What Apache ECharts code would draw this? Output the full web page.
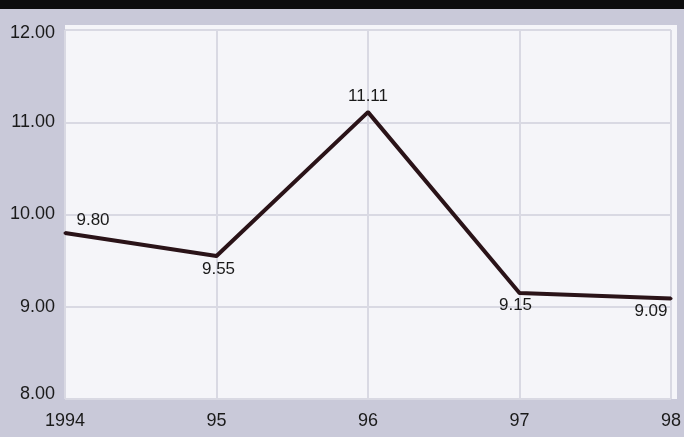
<!DOCTYPE html>
<html>
<head>
<meta charset="utf-8">
<script src="https://cdn.jsdelivr.net/npm/echarts@6/dist/echarts.min.js"></script>
<style>
html, body { margin: 0; padding: 0; background: #c9c9d9; }
#main { width: 684px; height: 437px; }
</style>
</head>
<body>
<div id="main"></div>
<script>
var years = ['1994', '95', '96', '97', '98'];
var values = [9.80, 9.55, 11.11, 9.15, 9.09];
var yTicks = ['8.00', '9.00', '10.00', '11.00', '12.00'];

// where each value label sits relative to its point
var labelPos = [
    { show: true, position: 'top', offset: [28, 2] },
    { show: true, position: 'bottom', offset: [2, -2] },
    { show: true, position: 'top', offset: [0, -1] },
    { show: true, position: 'bottom', offset: [-4, -3] },
    { show: true, position: 'bottom', offset: [-20, -2] }
];

var myChart = echarts.init(document.getElementById('main'));

var seriesData = values.map(function (v, i) {
    return {
        value: v,
        label: labelPos[i]
    };
});

myChart.setOption({
    backgroundColor: '#c9c9d9',
    animation: false,
    textStyle: { fontFamily: 'Liberation Sans' },
    graphic: [{
        type: 'rect',
        shape: { x: 0, y: 0, width: 684, height: 9 },
        style: { fill: '#0c0c0e' },
        z: 100
    }, {
        type: 'rect',
        shape: { x: 65, y: 25, width: 612, height: 374 },
        style: { fill: '#f5f5f9' },
        z: -10
    }],
    grid: {
        left: 65,
        right: 7,
        top: 30,
        bottom: 38
    },
    xAxis: {
        type: 'category',
        data: years,
        boundaryGap: false,
        axisLine: { show: false },
        axisTick: { show: false },
        axisLabel: {
            color: '#1a1a1a',
            fontSize: 18,
            margin: 13,
            showMaxLabel: true
        },
        splitLine: { show: true, lineStyle: { color: '#d9d9e3', width: 2 } }
    },
    yAxis: {
        type: 'value',
        min: 8,
        max: 12,
        interval: 1,
        axisLine: { show: false },
        axisTick: { show: false },
        axisLabel: {
            color: '#1a1a1a',
            fontSize: 18,
            margin: 10,
            formatter: function (v) {
                var t = yTicks[Math.round(v - 8)];
                if (v === 12) return '{top|' + t + '}';
                if (v === 8) return '{bot|' + t + '}';
                return t;
            },
            rich: {
                top: { fontSize: 18, color: '#1a1a1a', padding: [6, 0, 0, 0] },
                bot: { fontSize: 18, color: '#1a1a1a', padding: [0, 0, 10, 0] }
            }
        },
        splitLine: { lineStyle: { color: '#d9d9e3', width: 2 } }
    },
    series: [{
        type: 'line',
        data: seriesData,
        symbol: 'circle',
        symbolSize: 3,
        showSymbol: true,
        itemStyle: { color: '#2a1318' },
        lineStyle: { color: '#2a1318', width: 4 },
        label: {
            show: true,
            color: '#1a1a1a',
            fontSize: 17,
            formatter: function (p) { return p.value.toFixed(2); }
        }
    }]
});
</script>
</body>
</html>
